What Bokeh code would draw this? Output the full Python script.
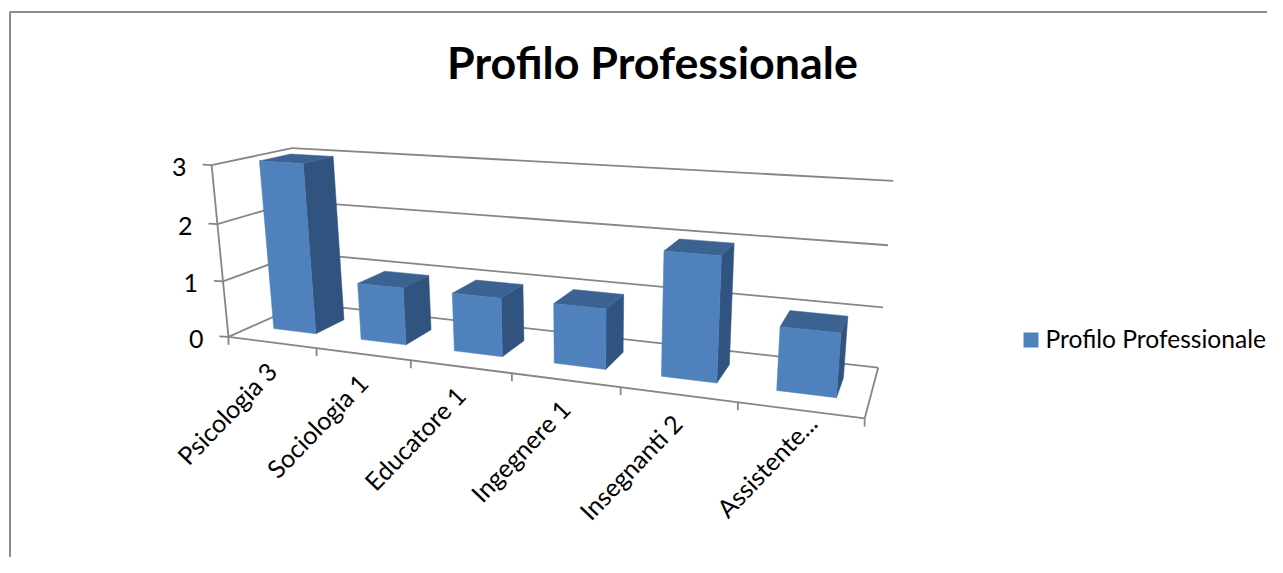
import numpy as np
from bokeh.plotting import figure
from bokeh.models import Range1d
from bokeh.core.properties import value
from bokeh.embed import file_html
from bokeh.resources import INLINE

# ---- chart data ----
title = "Profilo Professionale"
categories = ["Psicologia 3", "Sociologia 1", "Educatore 1", "Ingegnere 1", "Insegnanti 2", "Assistente..."]
values = [3, 1, 1, 1, 2, 1]
value_ticks = [0, 1, 2, 3]
series_name = "Profilo Professionale"

# ---- style ----
FRONT, SIDE, TOP = "#4F81BD", "#30547F", "#3B6291"
LINE = "#868686"
FONT = "Lato"
W, H = 1267, 557

# ---- projection: (category, depth, value) -> pixels, fitted to the chart box ----
calib = [
    ((0, 0, 0), (227.3, 336.7)), ((0, 0, 1), (222, 280.7)), ((0, 0, 2), (218, 223.5)), ((0, 0, 3), (212.3, 164.3)),
    ((0, 1, 3), (290, 147.3)), ((0, 1, 2), (295, 201)), ((0, 1, 1), (300, 253)), ((0, 1, 0), (305, 302)),
    ((6, 1, 3), (892.7, 180.7)), ((6, 1, 2), (887.7, 245)), ((6, 1, 1), (882.7, 306.7)), ((6, 1, 0), (877.3, 367.3)),
    ((6, 0, 0), (864, 417.3)), ((1, 0, 0), (315, 348)), ((2, 0, 0), (410, 360)), ((3, 0, 0), (511, 373)),
    ((4, 0, 0), (620.7, 386.7)), ((5, 0, 0), (737.7, 401.5)),
]
A, b = [], []
for (u, v, w), (x, y) in calib:
    A.append([u, v, w, 1, 0, 0, 0, 0, -x * u, -x * v, -x * w]); b.append(x)
    A.append([0, 0, 0, 0, u, v, w, 1, -y * u, -y * v, -y * w]); b.append(y)
m = np.linalg.lstsq(np.array(A, float), np.array(b, float), rcond=None)[0]


def proj(u, v, w):
    d = m[8] * u + m[9] * v + m[10] * w + 1
    return ((m[0] * u + m[1] * v + m[2] * w + m[3]) / d,
            (m[4] * u + m[5] * v + m[6] * w + m[7]) / d)


def seg(a, b):
    pa, pb = proj(*a), proj(*b)
    return [pa[0], pb[0]], [pa[1], pb[1]]


p = figure(width=W, height=H, output_backend="svg", toolbar_location=None,
           x_range=Range1d(0, W), y_range=Range1d(H, 0),
           x_axis_type=None, y_axis_type=None, min_border=0, outline_line_color=None)
p.grid.visible = False
p.background_fill_color = "white"

# chart-area border (runs off the right and bottom of the picture)
p.line([9.5, 9.5, W], [H, 11.5, 11.5], line_color="#8C8C8C", line_width=2)

n = len(categories)
top = max(value_ticks)
xs, ys = [], []
for t in value_ticks:
    for a, b_ in (((0, 0, t), (0, 1, t)), ((0, 1, t), (n, 1, t))):
        sx, sy = seg(a, b_)
        xs.append(sx); ys.append(sy)
    fx, fy = proj(0, 0, t)
    xs.append([fx - 9, fx]); ys.append([fy - 0.5, fy])
sx, sy = seg((0, 0, 0), (0, 0, top)); xs.append(sx); ys.append(sy)
sx, sy = seg((0, 0, 0), (n, 0, 0)); xs.append(sx); ys.append(sy)
sx, sy = seg((n, 0, 0), (n, 1, 0)); xs.append(sx); ys.append(sy)
for i in range(n + 1):
    fx, fy = proj(i, 0, 0)
    xs.append([fx, fx]); ys.append([fy, fy + 8])
p.multi_line(xs, ys, line_color=LINE, line_width=1.8)

# bars
BAR_L, BAR_R = 0.25, 0.74
DEP_F, DEP_B = 0.3, 0.7
for i, val in enumerate(values):
    u0, u1 = i + BAR_L, i + BAR_R
    faces = [
        (SIDE, [(u1, DEP_F, 0), (u1, DEP_B, 0), (u1, DEP_B, val), (u1, DEP_F, val)]),
        (TOP, [(u0, DEP_F, val), (u1, DEP_F, val), (u1, DEP_B, val), (u0, DEP_B, val)]),
        (FRONT, [(u0, DEP_F, 0), (u1, DEP_F, 0), (u1, DEP_F, val), (u0, DEP_F, val)]),
    ]
    for col, pts in faces:
        q = [proj(*c) for c in pts]
        p.patch([c[0] for c in q], [c[1] for c in q], fill_color=col, line_color=col, line_width=0.5)

# value labels
for t in value_ticks:
    fx, fy = proj(0, 0, t)
    p.text([fx - 25], [fy + 2], text=[str(t)], text_align="right", text_baseline="middle",
           text_font=value(FONT), text_font_size="25px", text_color="black")

# category labels
label_dx = [0, 0, 0, 0, -1, 12]
label_dy = [0, 0, 0, 0, 0, -16]
lx, ly = [], []
for i in range(n):
    fx, fy = proj(i + 0.5, 0, 0)
    lx.append(fx + label_dx[i]); ly.append(fy + 24 + label_dy[i])
p.text(lx, ly, text=categories, angle=46, angle_units="deg", text_align="right", text_baseline="middle",
       text_font=value(FONT), text_font_size="25px", text_color="black")

# title
p.text([652], [61], text=[title], text_align="center", text_baseline="middle",
       text_font=value(FONT), text_font_style="bold", text_font_size="44.8px", text_color="black")

# legend
p.quad(left=[1023], right=[1038], top=[332], bottom=[347], fill_color=FRONT, line_color=None)
p.text([1045], [337.5], text=[series_name], text_align="left", text_baseline="middle",
       text_font=value(FONT), text_font_size="24.6px", text_color="black")

open("out.html", "w").write(file_html(p, INLINE))
